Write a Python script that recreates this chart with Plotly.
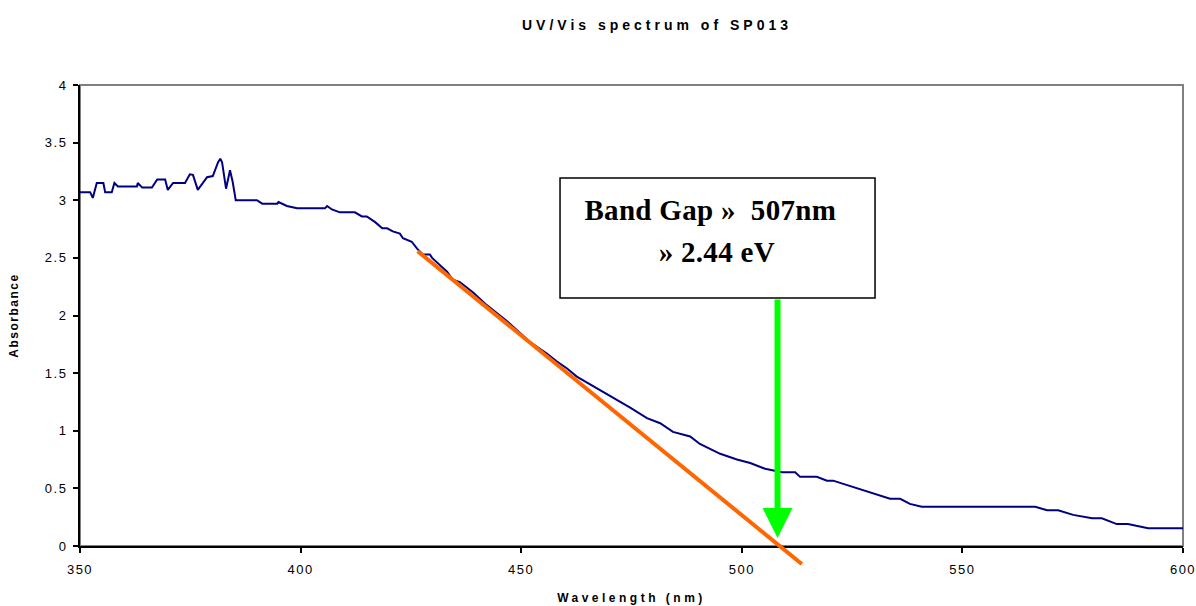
import plotly.graph_objects as go

# ---- data ----
wavelength = [350.0, 352.3, 352.9, 353.8, 355.3, 355.7, 357.2, 357.8, 358.6, 362.9,
              363.1, 364.1, 366.3, 367.5, 369.3, 369.9, 371.1, 373.8, 374.9, 375.6,
              376.7, 378.8, 380.1, 381.3, 381.8, 382.2, 383.1, 384.0, 384.6, 385.3,
              390.1, 391.3, 394.7, 395.0, 396.9, 399.2, 405.5, 406.0, 407.1, 408.9,
              412.3, 413.9, 415.0, 416.9, 418.5, 419.6, 420.9, 422.5, 423.2, 425.2,
              426.4, 427.7, 429.3, 429.8, 433.2, 434.5, 436.1, 439.1, 442.2, 446.8,
              452.0, 455.8, 458.1, 460.4, 462.6, 467.2, 470.1, 474.7, 478.5, 481.5,
              484.4, 488.3, 490.5, 495.1, 498.9, 501.9, 505.3, 509.1, 512.1, 513.2,
              517.0, 519.3, 520.7, 523.8, 527.5, 531.3, 533.6, 535.9, 538.1, 540.8,
              566.5, 569.2, 571.7, 575.1, 579.4, 581.6, 585.0, 587.5, 592.1, 600.0]
absorbance = [3.07, 3.07, 3.02, 3.15, 3.15, 3.07, 3.07, 3.15, 3.12, 3.12,
              3.15, 3.11, 3.11, 3.18, 3.18, 3.09, 3.15, 3.15, 3.225, 3.22,
              3.09, 3.20, 3.21, 3.33, 3.36, 3.33, 3.10, 3.26, 3.16, 3.00,
              3.00, 2.97, 2.97, 2.985, 2.95, 2.93, 2.93, 2.95, 2.92, 2.895,
              2.895, 2.86, 2.86, 2.81, 2.757, 2.757, 2.73, 2.71, 2.67, 2.64,
              2.58, 2.53, 2.53, 2.50, 2.38, 2.31, 2.29, 2.20, 2.09, 1.95,
              1.77, 1.67, 1.60, 1.54, 1.47, 1.37, 1.30, 1.20, 1.11, 1.065,
              0.99, 0.95, 0.885, 0.80, 0.75, 0.72, 0.67, 0.64, 0.64, 0.60,
              0.60, 0.567, 0.567, 0.53, 0.48, 0.44, 0.41, 0.41, 0.365, 0.34,
              0.34, 0.31, 0.31, 0.27, 0.24, 0.24, 0.19, 0.19, 0.154, 0.154]

# tangent line (linear fit of the absorption edge)
tangent_x = [426.2, 513.6]
tangent_y = [2.568, -0.156]

# band gap marker
gap_nm = 508.1
arrow_top = 2.152
arrow_tip = 0.07

# annotation box (wavelength / absorbance extents)
box_x = [458.8, 530.2]
box_y = [2.152, 3.193]
label_lines = ["Band Gap \u00bb  507nm", "\u00bb 2.44 eV"]
label_pos_x = [492.8, 494.4]
label_pos_y = [2.915, 2.551]

x_ticks = [350, 400, 450, 500, 550, 600]
y_ticks = [0, 0.5, 1, 1.5, 2, 2.5, 3, 3.5, 4]

sans = "Liberation Sans, Arial, sans-serif"
serif = "Liberation Serif, Times New Roman, serif"

fig = go.Figure()
fig.add_trace(go.Scatter(x=wavelength, y=absorbance, mode="lines",
                         line=dict(color="#000080", width=2), showlegend=False,
                         hoverinfo="skip"))

annotations = []
# orange tangent (annotation arrow so it can extend below the axis)
annotations.append(dict(x=tangent_x[1], y=tangent_y[1], ax=tangent_x[0], ay=tangent_y[0],
                        xref="x", yref="y", axref="x", ayref="y", text="",
                        showarrow=True, arrowhead=0, arrowwidth=4,
                        arrowcolor="#FF6600", standoff=0, startstandoff=0))
# green arrow
annotations.append(dict(x=gap_nm, y=arrow_tip, ax=gap_nm, ay=arrow_top,
                        xref="x", yref="y", axref="x", ayref="y", text="",
                        showarrow=True, arrowhead=2, arrowwidth=6, arrowsize=1,
                        arrowcolor="#00FF00", standoff=0, startstandoff=0))
for t, lx, ly in zip(label_lines, label_pos_x, label_pos_y):
    annotations.append(dict(x=lx, y=ly, xref="x", yref="y", text="<b>" + t + "</b>",
                            showarrow=False, font=dict(family=serif, size=29, color="black"),
                            xanchor="center", yanchor="middle"))

shapes = [
    dict(type="rect", xref="x domain", yref="y domain", x0=0, x1=1, y0=0, y1=1,
         line=dict(color="#808080", width=2), layer="below"),
    dict(type="rect", xref="x", yref="y", x0=box_x[0], x1=box_x[1], y0=box_y[0], y1=box_y[1],
         line=dict(color="black", width=1.5), fillcolor="white", layer="above"),
]

fig.update_layout(
    width=1196, height=606,
    margin=dict(l=80, r=13, t=85, b=60, autoexpand=False),
    paper_bgcolor="white", plot_bgcolor="white",
    title=dict(text="<b>UV/Vis spectrum of SP013</b>", x=657 / 1196, xanchor="center",
               y=1 - 25 / 606, yanchor="middle", yref="container",
               font=dict(family=sans, size=14, color="black")),
    xaxis=dict(range=[350, 600], tickvals=x_ticks, ticks="outside", ticklen=5,
               tickwidth=1.5, tickcolor="black", showline=True, linecolor="black",
               linewidth=2, showgrid=False, zeroline=False, ticklabelstandoff=5,
               tickfont=dict(family=sans, size=13, color="black"),
               title=dict(text="<b>Wavelength (nm)</b>", standoff=18,
                          font=dict(family=sans, size=12, color="black"))),
    yaxis=dict(range=[0, 4], tickvals=y_ticks, ticks="outside", ticklen=5,
               tickwidth=1.5, tickcolor="black", showline=True, linecolor="black",
               linewidth=2, showgrid=False, zeroline=False, ticklabelstandoff=3,
               tickfont=dict(family=sans, size=13, color="black"),
               title=dict(text="<b>Absorbance</b>", standoff=28,
                          font=dict(family=sans, size=12, color="black"))),
    annotations=annotations,
    shapes=shapes,
)

post = """
var gd = document.getElementById('{plot_id}');
function ls(){
  gd.querySelectorAll('.gtitle').forEach(function(e){e.style.letterSpacing='4px';});
  gd.querySelectorAll('.xtitle').forEach(function(e){e.style.letterSpacing='3.5px';});
  gd.querySelectorAll('.ytitle').forEach(function(e){e.style.letterSpacing='1.5px';});
  gd.querySelectorAll('.xtick text, .ytick text').forEach(function(e){e.style.letterSpacing='1.5px';});
  gd.querySelectorAll('.annotation-text').forEach(function(e){e.style.letterSpacing='0.3px';});
}
ls();
gd.on('plotly_afterplot', ls);
"""

fig.write_html("out.html", post_script=post)
